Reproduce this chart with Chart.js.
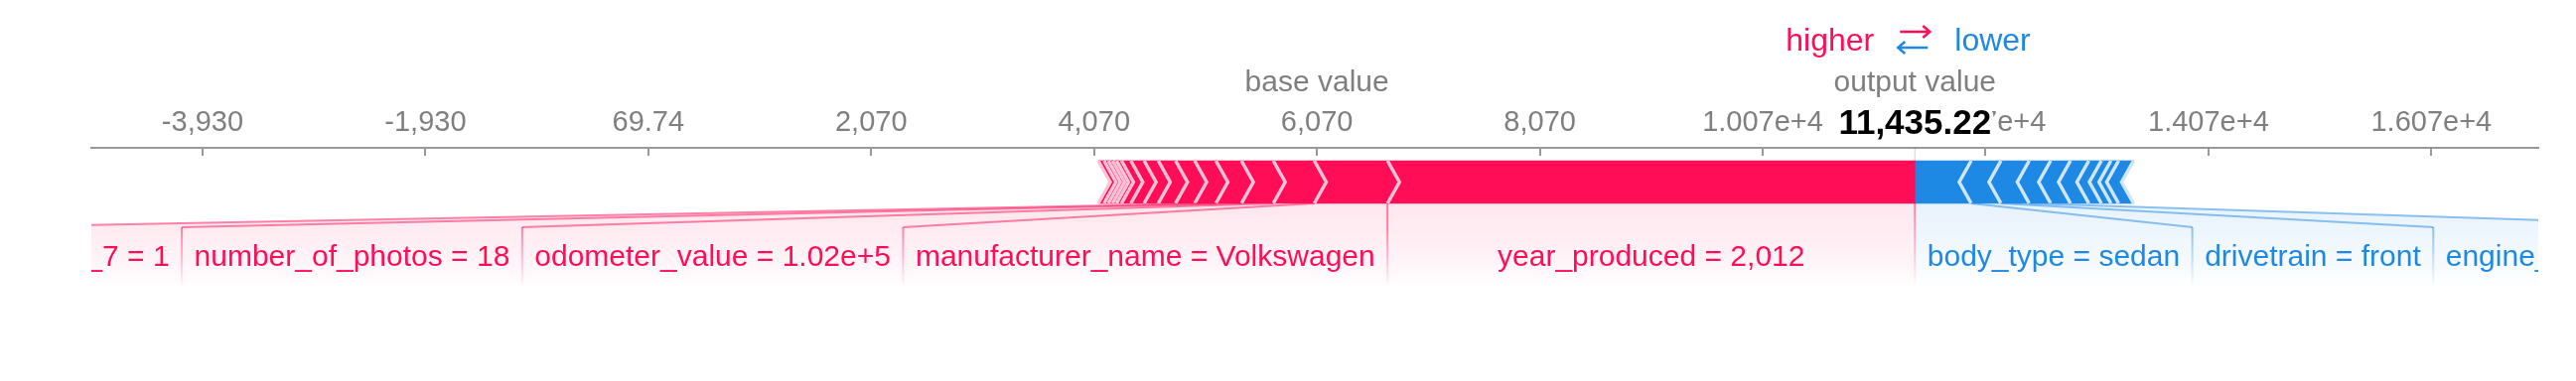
<!DOCTYPE html>
<html>
<head>
<meta charset="utf-8">
<script src="https://cdn.jsdelivr.net/npm/chart.js@4.4.1/dist/chart.umd.min.js"></script>
<style>
  html, body { margin: 0; padding: 0; background: #fff; }
  #wrap { width: 2594px; height: 384px; }
</style>
</head>
<body>
<div id="wrap"><canvas id="forceChart" width="2594" height="384"></canvas></div>
<script>
const baseValue = 6069.74;
const outputValue = 11435.22;

// features pushing the prediction higher, from the output value leftwards
const posLabels = ['year_produced = 2,012', 'manufacturer_name = Volkswagen', 'odometer_value = 1.02e+5',
  'number_of_photos = 18', 'feature_7 = 1', '', '', '', '', '', '', '', '', '', '', ''];
const posEffects = [4732.5, 657, 368, 286, 229, 190, 172, 155, 127, 119, 84, 44, 36, 38, 39, 51];

// features pushing it lower, from the output value rightwards
const negLabels = ['body_type = sedan', 'drivetrain = front', 'engine_fuel = gasoline', '', '', '', '', '', '', ''];
const negEffects = [505, 267, 254, 192, 178, 165, 112, 86, 69, 134];

const tickValues = [-3930.26, -1930.26, 69.74, 2069.74, 4069.74, 6069.74, 8069.74, 10069.74, 12069.74, 14069.74, 16069.74];
const tickLabels = ['-3,930', '-1,930', '69.74', '2,070', '4,070', '6,070', '8,070', '1.007e+4', '1.207e+4', '1.407e+4', '1.607e+4'];

const RED = '#ff0d57', BLUE = '#1e88e5';
const FONT = '"Liberation Sans", Arial, sans-serif';

// stack the effects outwards from the output value
const posSegs = [], negSegs = [];
let acc = outputValue;
posEffects.forEach(e => { posSegs.push([acc - e, acc]); acc -= e; });
acc = outputValue;
negEffects.forEach(e => { negSegs.push([acc, acc + e]); acc += e; });

const datasets = posSegs.map((s, i) => ({ label: posLabels[i], data: [s], backgroundColor: RED }))
  .concat(negSegs.map((s, i) => ({ label: negLabels[i], data: [s], backgroundColor: BLUE })));

function rgba(rgb, a) { return 'rgba(' + rgb + ',' + a + ')'; }

const forcePlugin = {
  id: 'force',
  afterDraw(chart) {
    const { ctx, chartArea: ca, scales: { x } } = chart;
    const bar = chart.getDatasetMeta(0).data[0];
    const top = bar.y - bar.height / 2, bottom = bar.y + bar.height / 2, mid = bar.y;
    const tip = 12;
    const outPx = x.getPixelForValue(outputValue);

    // tick marks under the axis line
    ctx.save();
    ctx.strokeStyle = '#999';
    ctx.lineWidth = 2;
    tickValues.forEach(v => {
      const px = Math.round(x.getPixelForValue(v));
      ctx.beginPath(); ctx.moveTo(px, ca.top); ctx.lineTo(px, ca.top + 8); ctx.stroke();
    });
    ctx.strokeStyle = 'rgba(0,0,0,0.12)';
    ctx.lineWidth = 1.5;
    ctx.beginPath(); ctx.moveTo(outPx, ca.top); ctx.lineTo(outPx, top); ctx.stroke();

    // chevron separators
    ctx.lineWidth = 3.5;
    ctx.lineJoin = 'miter';
    const lastPos = x.getPixelForValue(posSegs[posSegs.length - 1][0]);
    ctx.fillStyle = '#fff';
    ctx.beginPath(); ctx.moveTo(lastPos - 1, top - 1); ctx.lineTo(lastPos + tip, mid); ctx.lineTo(lastPos - 1, bottom + 1); ctx.closePath(); ctx.fill();
    const lastNeg = x.getPixelForValue(negSegs[negSegs.length - 1][1]);
    ctx.beginPath(); ctx.moveTo(lastNeg + 1, top - 1); ctx.lineTo(lastNeg - tip, mid); ctx.lineTo(lastNeg + 1, bottom + 1); ctx.closePath(); ctx.fill();

    ctx.strokeStyle = '#ffc3d5';
    posSegs.forEach(s => {
      const bx = x.getPixelForValue(s[0]);
      ctx.beginPath(); ctx.moveTo(bx, top); ctx.lineTo(bx + tip, mid); ctx.lineTo(bx, bottom); ctx.stroke();
    });
    ctx.strokeStyle = '#d1e6fa';
    negSegs.forEach(s => {
      const bx = x.getPixelForValue(s[1]);
      ctx.beginPath(); ctx.moveTo(bx, top); ctx.lineTo(bx - tip, mid); ctx.lineTo(bx, bottom); ctx.stroke();
    });
    ctx.restore();

    // feature labels below the bar
    ctx.save();
    ctx.beginPath(); ctx.rect(ca.left, 0, ca.right - ca.left, chart.height); ctx.clip();
    ctx.font = '30px ' + FONT;
    ctx.textAlign = 'center';
    ctx.textBaseline = 'alphabetic';
    const pad = 25, lineY = bottom + 24, fadeY = bottom + 85, textY = 268;

    function backing(rgb, sL, sR, bL, bR) {
      const g = ctx.createLinearGradient(0, bottom, 0, fadeY);
      g.addColorStop(0, rgba(rgb, 0.1));
      g.addColorStop(0.65, rgba(rgb, 0.05));
      g.addColorStop(1, rgba(rgb, 0));
      ctx.fillStyle = g;
      ctx.beginPath();
      ctx.moveTo(sL, bottom); ctx.lineTo(sR, bottom); ctx.lineTo(bR, lineY); ctx.lineTo(bR, fadeY);
      ctx.lineTo(bL, fadeY); ctx.lineTo(bL, lineY); ctx.closePath(); ctx.fill();
    }
    function edge(rgb, sx, bx, y0) {
      ctx.lineWidth = 2;
      ctx.strokeStyle = rgba(rgb, 0.5);
      ctx.beginPath(); ctx.moveTo(sx, bottom); ctx.lineTo(bx, lineY); ctx.stroke();
      const g = ctx.createLinearGradient(0, y0, 0, fadeY);
      g.addColorStop(0, rgba(rgb, 0.5));
      g.addColorStop(1, rgba(rgb, 0));
      ctx.strokeStyle = g;
      ctx.beginPath(); ctx.moveTo(bx, lineY); ctx.lineTo(bx, fadeY); ctx.stroke();
    }

    let boxR = outPx;
    posSegs.forEach((s, i) => {
      if (!posLabels[i]) return;
      const sL = x.getPixelForValue(s[0]), sR = x.getPixelForValue(s[1]);
      const w = ctx.measureText(posLabels[i]).width + pad;
      const boxL = Math.min(sL, boxR - w);
      backing('255,13,87', sL, sR, boxL, boxR);
      edge('255,13,87', sL, boxL, lineY);
      ctx.fillStyle = RED;
      ctx.fillText(posLabels[i], (boxL + boxR) / 2, textY);
      boxR = boxL;
    });
    let boxL = outPx;
    negSegs.forEach((s, i) => {
      if (!negLabels[i]) return;
      const sL = x.getPixelForValue(s[0]), sR = x.getPixelForValue(s[1]);
      const w = ctx.measureText(negLabels[i]).width + pad;
      const bR = Math.max(sR, boxL + w);
      backing('30,136,229', sL, sR, boxL, bR);
      edge('30,136,229', sR, bR, lineY);
      ctx.fillStyle = BLUE;
      ctx.fillText(negLabels[i], (boxL + bR) / 2, textY);
      boxL = bR;
    });
    // output divider under the bar
    const g = ctx.createLinearGradient(0, bottom, 0, fadeY);
    g.addColorStop(0, rgba('255,13,87', 0.5));
    g.addColorStop(1, rgba('255,13,87', 0));
    ctx.strokeStyle = g;
    ctx.lineWidth = 2;
    ctx.beginPath(); ctx.moveTo(outPx, bottom); ctx.lineTo(outPx, fadeY); ctx.stroke();
    ctx.restore();

    // header: legend, base / output value
    ctx.save();
    ctx.textBaseline = 'alphabetic';
    ctx.font = '32px ' + FONT;
    ctx.textAlign = 'right';
    ctx.fillStyle = RED;
    ctx.fillText('higher', outPx - 41, 51);
    ctx.textAlign = 'left';
    ctx.fillStyle = BLUE;
    ctx.fillText('lower', outPx + 40, 51);
    ctx.lineWidth = 2.5;
    ctx.strokeStyle = RED;
    ctx.beginPath(); ctx.moveTo(outPx - 15, 32); ctx.lineTo(outPx + 15, 32);
    ctx.moveTo(outPx + 8, 26); ctx.lineTo(outPx + 15, 32); ctx.lineTo(outPx + 8, 38); ctx.stroke();
    ctx.strokeStyle = BLUE;
    ctx.beginPath(); ctx.moveTo(outPx - 17, 48); ctx.lineTo(outPx + 13, 48);
    ctx.moveTo(outPx - 10, 42); ctx.lineTo(outPx - 17, 48); ctx.lineTo(outPx - 10, 54); ctx.stroke();

    ctx.font = '30px ' + FONT;
    ctx.textAlign = 'center';
    ctx.fillStyle = '#7f7f7f';
    ctx.fillText('base value', x.getPixelForValue(baseValue), 92);
    ctx.fillText('output value', outPx, 92);

    ctx.font = 'bold 35px ' + FONT;
    ctx.lineWidth = 8;
    ctx.lineJoin = 'round';
    ctx.strokeStyle = '#fff';
    const outText = outputValue.toLocaleString('en-US', { minimumFractionDigits: 2 });
    ctx.strokeText(outText, outPx, 135);
    ctx.fillStyle = '#000';
    ctx.fillText(outText, outPx, 135);
    ctx.restore();
  }
};

new Chart(document.getElementById('forceChart'), {
  type: 'bar',
  data: { labels: [''], datasets: datasets },
  options: {
    indexAxis: 'y',
    responsive: false,
    animation: false,
    devicePixelRatio: 1,
    layout: { padding: { left: 92, right: 38, top: 100, bottom: 166 } },
    datasets: { bar: { grouped: false, barThickness: 43, borderWidth: 0, borderSkipped: false } },
    plugins: { legend: { display: false }, tooltip: { enabled: false } },
    scales: {
      x: {
        type: 'linear',
        position: 'top',
        min: -4928,
        max: 17029,
        afterBuildTicks: s => { s.ticks = tickValues.map(v => ({ value: v })); },
        afterFit: s => { s.height = 49; },
        grid: { display: false, drawTicks: false },
        border: { display: true, color: '#999', width: 2 },
        ticks: {
          autoSkip: false,
          maxRotation: 0,
          padding: 8,
          color: '#7f7f7f',
          font: { family: FONT, size: 29 },
          callback: (v, i) => tickLabels[i]
        }
      },
      y: { display: false }
    }
  },
  plugins: [forcePlugin]
});
</script>
</body>
</html>
